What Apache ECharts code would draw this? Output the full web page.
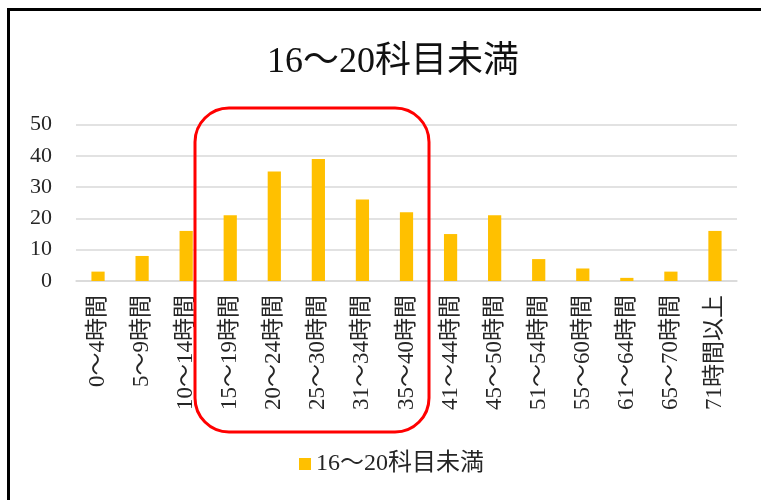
<!DOCTYPE html>
<html>
<head>
<meta charset="utf-8">
<script src="https://cdn.jsdelivr.net/npm/echarts@6/dist/echarts.min.js"></script>
<style>
html,body{margin:0;padding:0;background:#fff;}
#chart{width:761px;height:500px;}
</style>
</head>
<body>
<div id="chart"></div>
<script>
var titleText = '16～20科目未満';
var seriesName = '16～20科目未満';
var categories = ['0～4時間','5～9時間','10～14時間','15～19時間','20～24時間','25～30時間','31～34時間','35～40時間','41～44時間','45～50時間','51～54時間','55～60時間','61～64時間','65～70時間','71時間以上'];
var values = [3, 8, 16, 21, 35, 39, 26, 22, 15, 21, 7, 4, 1, 3, 16];
var yTicks = [0, 10, 20, 30, 40, 50];

var serif = "'Liberation Serif', 'Noto Sans CJK JP', serif";
var chart = echarts.init(document.getElementById('chart'), null, {renderer: 'canvas'});
chart.setOption({
  animation: false,
  backgroundColor: '#ffffff',
  title: {
    text: titleText,
    left: 388,
    textAlign: 'center',
    top: 40,
    textStyle: {fontFamily: serif, fontSize: 36, fontWeight: 'normal', color: '#111'}
  },
  legend: {
    data: [seriesName],
    left: 294,
    top: 447,
    icon: 'rect',
    itemWidth: 12,
    itemHeight: 12,
    itemGap: 6,
    textStyle: {fontFamily: serif, fontSize: 24, color: '#262626'}
  },
  grid: {left: 76, right: 24, top: 124.5, bottom: 219, containLabel: false},
  xAxis: {
    type: 'category',
    data: categories,
    axisLine: {lineStyle: {color: '#d9d9d9', width: 1.5}},
    axisTick: {show: false},
    axisLabel: {rotate: 90, interval: 0, margin: 14, fontFamily: serif, fontSize: 23, color: '#262626'}
  },
  yAxis: {
    type: 'value',
    min: yTicks[0],
    max: yTicks[yTicks.length - 1],
    interval: yTicks[1] - yTicks[0],
    axisLine: {show: false},
    axisTick: {show: false},
    splitLine: {lineStyle: {color: '#d9d9d9', width: 1.5}},
    axisLabel: {margin: 24, fontFamily: serif, fontSize: 22, color: '#262626'}
  },
  series: [{
    name: seriesName,
    type: 'bar',
    data: values,
    barWidth: '30%',
    itemStyle: {color: '#FFC000'}
  }],
  graphic: [
    {type: 'rect', z: 100, silent: true,
     shape: {x: 8.5, y: 9.5, width: 900, height: 700},
     style: {fill: 'none', stroke: '#000', lineWidth: 3}},
    {type: 'rect', z: 100, silent: true,
     shape: {x: 195, y: 108, width: 234, height: 324, r: 34},
     style: {fill: 'none', stroke: '#ff0000', lineWidth: 3}}
  ]
});
</script>
</body>
</html>
